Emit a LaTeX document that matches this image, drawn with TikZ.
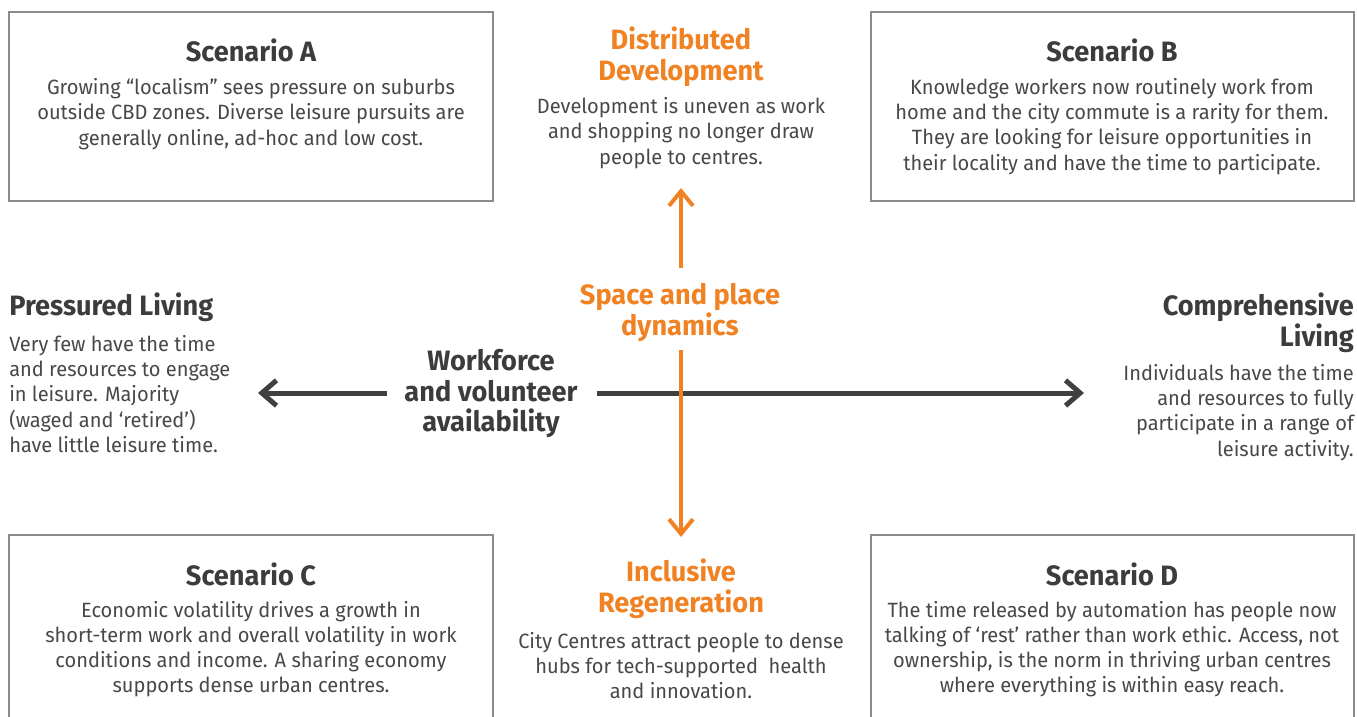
\documentclass[tikz,border=0pt]{standalone}
\usepackage{fontspec}
\setmainfont{Fira Sans}[FakeStretch=0.97]
\usetikzlibrary{arrows.meta}
\usepackage{xcolor}
\definecolor{axisorange}{RGB}{240,130,35}
\definecolor{axisgray}{RGB}{64,64,64}
\definecolor{headgray}{RGB}{60,60,60}
\definecolor{bodygray}{RGB}{72,72,72}
\definecolor{framegray}{RGB}{140,140,140}

\begin{document}
\begin{tikzpicture}[
x=0.75pt, y=-0.75pt,
frame/.style={draw=framegray, line width=0.9pt},
head/.style={
	inner sep=0pt, align=center, text=headgray,
	font=\bfseries\fontsize{21}{23.2}\selectfont,
},
orangehead/.style={head, text=axisorange},
body/.style={
	inner sep=0pt, align=center, text=bodygray,
	font=\fontsize{15.5}{18.9}\selectfont,
},
grayaxis/.style={draw=axisgray, line width=3.75pt,
	-{Straight Barb[length=11pt,width=19pt]}},
orangeaxis/.style={draw=axisorange, line width=3pt,
	-{Straight Barb[length=11pt,width=18pt]}},
]
\useasboundingbox (0,0) rectangle (1357,717);

% scenario boxes
\draw[frame] (9,12) rectangle (493,201);
\draw[frame] (871,12) rectangle (1354,201);
\draw[frame] (9,717) -- (9,535) -- (493,535) -- (493,717);
\draw[frame] (871,717) -- (871,535) -- (1354,535) -- (1354,717);

\node[head] (scenA) at (251,50) {Scenario A};
\node[body] (scenAtext) at (251,114) {
    Growing “localism” sees pressure on suburbs\\
    outside CBD zones. Diverse leisure pursuits are\\
    generally online, ad-hoc and low cost.};

\node[head] (scenB) at (1112,50) {Scenario B};
\node[body] (scenBtext) at (1112,126.5) {
    Knowledge workers now routinely work from\\
    home and the city commute is a rarity for them.\\
    They are looking for leisure opportunities in\\
    their locality and have the time to participate.};

\node[head] (scenC) at (251,574) {Scenario C};
\node[body] (scenCtext) at (251,649) {
    Economic volatility drives a growth in\\
    short-term work and overall volatility in work\\
    conditions and income. A sharing economy\\
    supports dense urban centres.};

\node[head] (scenD) at (1112,574) {Scenario D};
\node[body] (scenDtext) at (1112,649) {
    The time released by automation has people now\\
    talking of ‘rest’ rather than work ethic. Access, not\\
    ownership, is the norm in thriving urban centres\\
    where everything is within easy reach.};

% vertical axis ends
\node[orangehead] (distributed) at (681,56.5) {Distributed\\Development};
\node[body] (distributedtext) at (681,133) {
    Development is uneven as work\\
    and shopping no longer draw\\
    people to centres.};

\node[orangehead] (inclusive) at (681,589) {Inclusive\\Regeneration};
\node[body] (inclusivetext) at (681,665.5) {
    City Centres attract people to dense\\
    hubs for tech-supported~ health\\
    and innovation.};

% horizontal axis ends
\node[head, anchor=west] (pressured) at (9,307) {Pressured Living};
\node[body, anchor=west, align=left] (pressuredtext) at (9,394) {
    Very few have the time\\
    and resources to engage\\
    in leisure. Majority\\
    (waged and ‘retired’)\\
    have little leisure time.};

\node[head, anchor=east, align=right] (comprehensive) at (1354,323) {Comprehensive\\Living};
\node[body, anchor=east, align=right] (comprehensivetext) at (1354,412.5) {
    Individuals have the time\\
    and resources to fully\\
    participate in a range of\\
    leisure activity.};

% axes
\node[head] (workforce) at (491,393.5) {Workforce\\and volunteer\\availability};
\node[orangehead] (space) at (680,312.5) {Space and place\\dynamics};

\coordinate (lefttip) at (258,393);
\coordinate (righttip) at (1084,393);
\coordinate (toptip) at (681,188);
\coordinate (bottomtip) at (681,537);

\draw[grayaxis] (387,393) -- (lefttip);
\draw[grayaxis] (597,393) -- (righttip);
\draw[orangeaxis] (681,268) -- (toptip);
\draw[orangeaxis] (681,350) -- (bottomtip);
\end{tikzpicture}
\end{document}
